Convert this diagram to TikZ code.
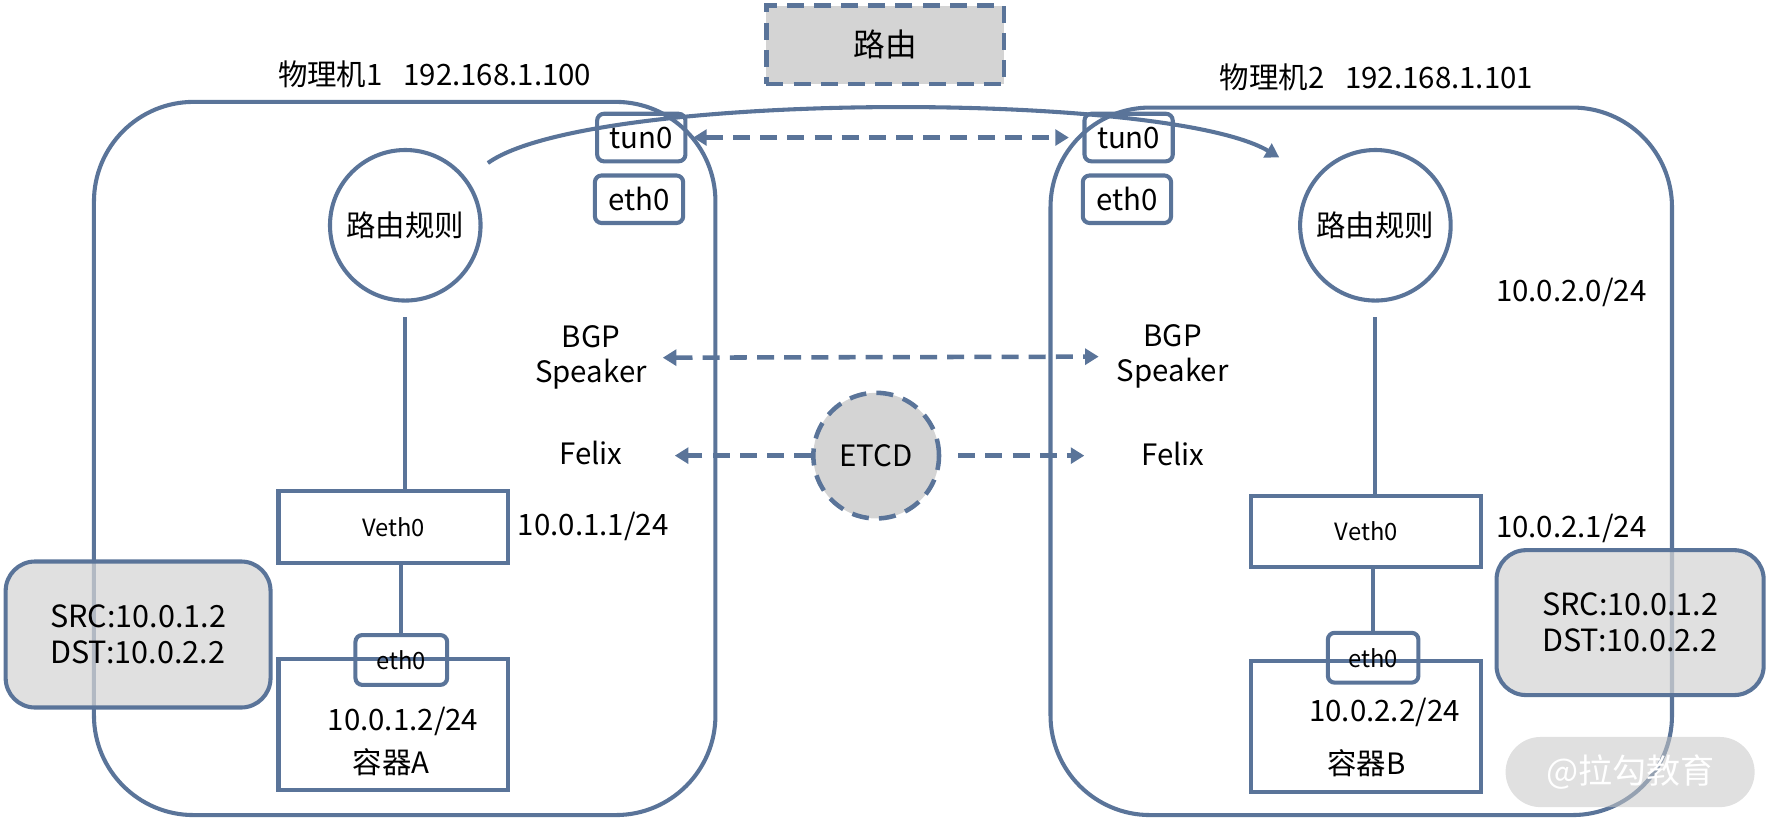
\documentclass[tikz,border=0pt]{standalone}
\usepackage{fontspec}
\setmainfont{Noto Sans CJK SC}
\usetikzlibrary{arrows.meta}
\definecolor{bl}{HTML}{5A7499}
\definecolor{gf}{HTML}{D4D4D4}
\begin{document}
\begin{tikzpicture}[x=1pt,y=-1pt,
  ln/.style={draw=bl,line width=3.6pt},
  lbl/.style={inner sep=0pt,font=\fontsize{26}{31}\selectfont,align=center},
  host/.style={ln,rounded corners=88pt,inner sep=0pt},
  dev/.style={ln,rounded corners=6pt,inner sep=0pt,minimum width=78pt,minimum height=42pt,font=\fontsize{26}{31}\selectfont},
  sbox/.style={ln,inner sep=0pt,minimum width=203pt},
  pkt/.style={ln,rounded corners=26pt,fill=gf,fill opacity=0.72,text opacity=1,inner sep=0pt,font=\fontsize{27}{32}\selectfont,align=left},
  dar/.style={draw=bl,line width=4pt,dash pattern=on 15pt off 9pt},
  tip/.style={-{Triangle[length=12pt,width=14pt]}},
  btip/.style={{Triangle[length=12pt,width=14pt]}-{Triangle[length=12pt,width=14pt]}}
]
\useasboundingbox (0,0) rectangle (1568,734);

% hosts
\node[host,minimum width=549pt,minimum height=630pt] (h1) at (357.5,405) {};
\node[host,minimum width=549pt,minimum height=625pt] (h2) at (1202.5,407.5) {};
\node[lbl] (t1) at (384,66) {物理机1\hspace{0.7em}192.168.1.100};
\node[lbl] (t2) at (1216,68) {物理机2\hspace{0.7em}192.168.1.101};

% route box
\node[draw=bl,line width=4pt,dash pattern=on 15pt off 9pt,fill=gf,minimum width=210pt,minimum height=69pt,font=\fontsize{28}{32}\selectfont] (rt) at (782,39.5) {路由};

% tun / eth
\node[dev] (tun1) at (566.5,121.5) {tun0};
\node[dev] (eth1) at (564.5,176) {eth0};
\node[dev] (tun2) at (997,121.5) {tun0};
\node[dev] (eth2) at (995.5,176) {eth0};

% routing rule circles
\node[ln,circle,minimum size=133pt,inner sep=0pt,font=\fontsize{26}{31}\selectfont] (r1) at (358,199) {路由规则};
\node[ln,circle,minimum size=133pt,inner sep=0pt,font=\fontsize{26}{31}\selectfont] (r2) at (1215,199) {路由规则};

% veth
\node[sbox,minimum height=63pt,font=\fontsize{21}{25}\selectfont] (v1) at (347.5,465.5) {Veth0};
\node[sbox,minimum height=63pt,font=\fontsize{21}{25}\selectfont] (v2) at (1207,469.5) {Veth0};

% containers
\node[sbox,minimum height=116pt] (c1) at (347.5,640) {};
\node[sbox,minimum height=116pt] (c2) at (1207,642) {};
\node[ln,rounded corners=6pt,inner sep=0pt,minimum width=81pt,minimum height=44pt,font=\fontsize{21}{25}\selectfont] (e1) at (354.5,583) {eth0};
\node[ln,rounded corners=6pt,inner sep=0pt,minimum width=80pt,minimum height=44pt,font=\fontsize{21}{25}\selectfont] (e2) at (1213,581) {eth0};
\node[lbl] (ip1) at (356,637) {10.0.1.2/24};
\node[lbl] (ca) at (345.5,673) {容器A};
\node[lbl] (ip2) at (1223,629) {10.0.2.2/24};
\node[lbl] (cb) at (1207,674) {容器B};

% ip labels
\node[lbl] (a11) at (524,465) {10.0.1.1/24};
\node[lbl] (a21) at (1388,467) {10.0.2.1/24};
\node[lbl] (a20) at (1388,258) {10.0.2.0/24};

% BGP / Felix / ETCD
\node[lbl] (b1) at (522,316) {BGP\\Speaker};
\node[lbl] (b2) at (1036,315) {BGP\\Speaker};
\node[lbl] (f1) at (522,400) {Felix};
\node[lbl] (f2) at (1036,401) {Felix};
\node[draw=bl,line width=4pt,dash pattern=on 15pt off 9pt,fill=gf,circle,minimum size=111pt,inner sep=0pt,font=\fontsize{26}{31}\selectfont] (etcd) at (774,402.5) {ETCD};

% connectors
\draw[ln,shorten <=13pt] (r1.south) -- (r1.south |- v1.north);
\draw[ln,shorten <=13pt] (r2.south) -- (r2.south |- v2.north);
\draw[ln] (e1.north |- v1.south) -- (e1.north);
\draw[ln] (e2.north |- v2.south) -- (e2.north);

\draw[dar,btip,shorten <=5pt,shorten >=12pt] (tun1.east) -- (tun2.west);
\draw[dar,btip,shorten <=14pt,shorten >=16pt] (b1.east) -- (b2.west);
\draw[dar,tip,shorten >=46pt] (etcd.west) -- (etcd.west -| f1.east);
\draw[dar,tip,shorten <=15pt,shorten >=50pt] (etcd.east) -- (etcd.east -| f2.west);

\coordinate (cs) at (431,144);
\coordinate (ce) at (1130,139);
\draw[ln,tip] (cs) .. controls (520,80) and (1030,80) .. (ce);

% packets
\node[pkt,minimum width=234pt,minimum height=129pt] (p1) at (122,560.5) {SRC:10.0.1.2\\DST:10.0.2.2};
\node[pkt,minimum width=236pt,minimum height=128pt] (p2) at (1440,550) {SRC:10.0.1.2\\DST:10.0.2.2};

% watermark
\node[fill=gray!45,fill opacity=0.55,text opacity=1,text=white,rounded corners=31pt,minimum width=220pt,minimum height=62pt,inner sep=0pt,font=\fontsize{30}{34}\selectfont] (wm) at (1440,682) {@拉勾教育};
\end{tikzpicture}
\end{document}
